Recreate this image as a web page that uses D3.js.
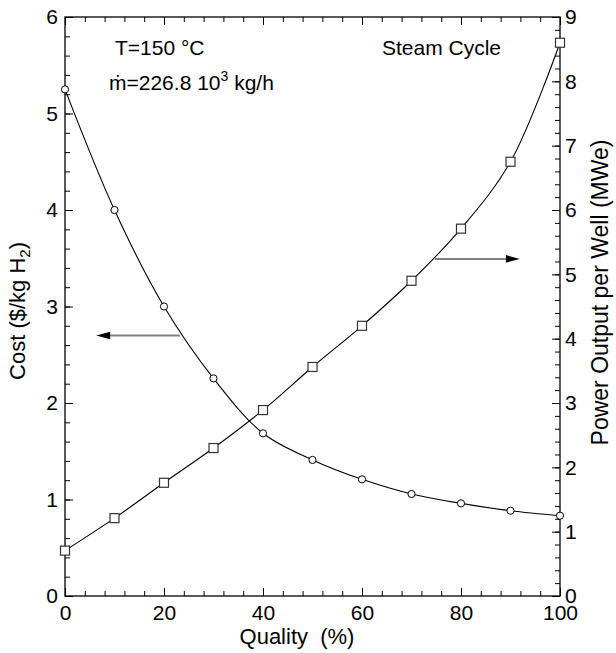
<!DOCTYPE html>
<html><head><meta charset="utf-8">
<script src="https://cdn.jsdelivr.net/npm/d3@7"></script>
<style>
html,body{margin:0;padding:0;background:#fff;}
svg{display:block;}
text{font-family:"Liberation Sans",Arial,sans-serif;fill:#000;}
</style></head>
<body><svg id="chart" width="616" height="653"></svg>
<script>
// ---- data ----
const quality = [0, 10, 20, 30, 40, 50, 60, 70, 80, 90, 100];
const cost = [5.25, 4.0, 3.0, 2.255, 1.686, 1.41, 1.209, 1.057, 0.96, 0.884, 0.832];
const power = [0.705, 1.21, 1.76, 2.30, 2.89, 3.56, 4.2, 4.90, 5.71, 6.75, 8.60];
const xTicks = [0, 20, 40, 60, 80, 100];
const costTicks = [0, 1, 2, 3, 4, 5, 6];
const powerTicks = [0, 1, 2, 3, 4, 5, 6, 7, 8, 9];
// arrow annotations (data coords): [x1, x2, y]
const costArrow = [23.2, 6.3, 2.70];
const powerArrow = [74.7, 91.9, 5.24];

const W = 616, H = 653;
const m = {left: 65, right: 56, top: 17, bottom: 57};
const svg = d3.select("#chart");
const x = d3.scaleLinear().domain([0, 100]).range([m.left, W - m.right]);
const yL = d3.scaleLinear().domain([0, 6]).range([H - m.bottom, m.top]);
const yR = d3.scaleLinear().domain([0, 9]).range([H - m.bottom, m.top]);
const FS = 21;

function styleAxis(g){
  g.selectAll("text").attr("font-family", '"Liberation Sans",Arial,sans-serif').attr("font-size", FS).attr("fill","#000");
  g.selectAll("line").attr("stroke","#000");
  g.select(".domain").remove();
}
const minorX = d3.range(0, 100.01, 4);
const minorL = d3.range(0, 6.001, 0.2).map(v => +v.toFixed(2));
const minorR = d3.range(0, 9.001, 0.2).map(v => +v.toFixed(2));

// minor ticks
svg.append("g").attr("transform",`translate(0,${H-m.bottom})`)
  .call(d3.axisBottom(x).tickValues(minorX).tickSize(-5).tickFormat("")).call(styleAxis);
svg.append("g").attr("transform",`translate(0,${m.top})`)
  .call(d3.axisTop(x).tickValues(minorX).tickSize(-5).tickFormat("")).call(styleAxis);
svg.append("g").attr("transform",`translate(${m.left},0)`)
  .call(d3.axisLeft(yL).tickValues(minorL).tickSize(-5).tickFormat("")).call(styleAxis);
svg.append("g").attr("transform",`translate(${W-m.right},0)`)
  .call(d3.axisRight(yR).tickValues(minorR).tickSize(-5).tickFormat("")).call(styleAxis);

// major ticks
svg.append("g").attr("transform",`translate(0,${H-m.bottom})`)
  .call(d3.axisBottom(x).tickValues(xTicks).tickSize(-8).tickPadding(9).tickFormat(d3.format("d"))).call(styleAxis);
svg.append("g").attr("transform",`translate(0,${m.top})`)
  .call(d3.axisTop(x).tickValues(xTicks).tickSize(-8).tickFormat("")).call(styleAxis);
svg.append("g").attr("transform",`translate(${m.left},0)`)
  .call(d3.axisLeft(yL).tickValues(costTicks).tickSize(-8).tickPadding(7).tickFormat(d3.format("d"))).call(styleAxis);
svg.append("g").attr("transform",`translate(${W-m.right},0)`)
  .call(d3.axisRight(yR).tickValues(powerTicks).tickSize(-8).tickPadding(5).tickFormat(d3.format("d"))).call(styleAxis);

// frame
svg.append("rect").attr("x", m.left).attr("y", m.top)
  .attr("width", W - m.left - m.right).attr("height", H - m.top - m.bottom)
  .attr("fill","none").attr("stroke","#000").attr("stroke-width",1.3);

// curves
const costPts = quality.map((q,i)=>[q,cost[i]]);
const powerPts = quality.map((q,i)=>[q,power[i]]);
svg.append("path").datum(costPts)
  .attr("d", d3.line().x(d=>x(d[0])).y(d=>yL(d[1])).curve(d3.curveCatmullRom.alpha(0.5)))
  .attr("fill","none").attr("stroke","#000").attr("stroke-width",1.1);
svg.append("path").datum(powerPts)
  .attr("d", d3.line().x(d=>x(d[0])).y(d=>yR(d[1])).curve(d3.curveCatmullRom.alpha(0.5)))
  .attr("fill","none").attr("stroke","#000").attr("stroke-width",1.1);

svg.append("g").selectAll("circle").data(costPts).join("circle")
  .attr("cx", d=>x(d[0])).attr("cy", d=>yL(d[1])).attr("r", 3.6)
  .attr("fill","#fff").attr("stroke","#000").attr("stroke-width",1);
const s = 9;
svg.append("g").selectAll("rect").data(powerPts).join("rect")
  .attr("x", d=>x(d[0])-s/2).attr("y", d=>yR(d[1])-s/2).attr("width", s).attr("height", s)
  .attr("fill","#fff").attr("stroke","#333").attr("stroke-width",1.2);

// arrows
function arrow(x1, x2, yy){
  const dir = Math.sign(x2 - x1);
  const hl = 14, hw = 3.8;
  svg.append("line").attr("x1", x1).attr("x2", x2 - dir*hl).attr("y1", yy).attr("y2", yy)
    .attr("stroke","#7f7f7f").attr("stroke-width",2);
  svg.append("path").attr("d", `M${x2},${yy} L${x2-dir*hl},${yy-hw} L${x2-dir*hl},${yy+hw} Z`).attr("fill","#000");
}
arrow(x(costArrow[0]), x(costArrow[1]), yL(costArrow[2]));
arrow(x(powerArrow[0]), x(powerArrow[1]), yR(powerArrow[2]));

// annotations
svg.append("text").attr("x", 115).attr("y", 55).attr("font-size", FS).text("T=150 °C");
const t2 = svg.append("text").attr("x", 109).attr("y", 90).attr("font-size", FS);
t2.append("tspan").text("\u1E41=226.8 10");
t2.append("tspan").attr("font-size", 14).attr("dy", -9).text("3");
t2.append("tspan").attr("dy", 9).text(" kg/h");
svg.append("text").attr("x", 382).attr("y", 55).attr("font-size", FS).text("Steam Cycle");

// axis titles
svg.append("text").attr("x", 297).attr("y", 644)
  .attr("text-anchor","middle").attr("font-size", 22).attr("xml:space","preserve").text("Quality  (%)");
const lt = svg.append("text").attr("transform", `translate(25,311) rotate(-90)`)
  .attr("text-anchor","middle").attr("font-size", 22);
lt.append("tspan").text("Cost ($/kg H");
lt.append("tspan").attr("font-size", 15).attr("dy", 5).text("2");
lt.append("tspan").attr("dy", -5).text(")");
svg.append("text").attr("transform", `translate(608,${(137+448)/2}) rotate(-90)`)
  .attr("text-anchor","middle").attr("font-size", 23).text("Power Output per Well (MWe)");
</script></body></html>
